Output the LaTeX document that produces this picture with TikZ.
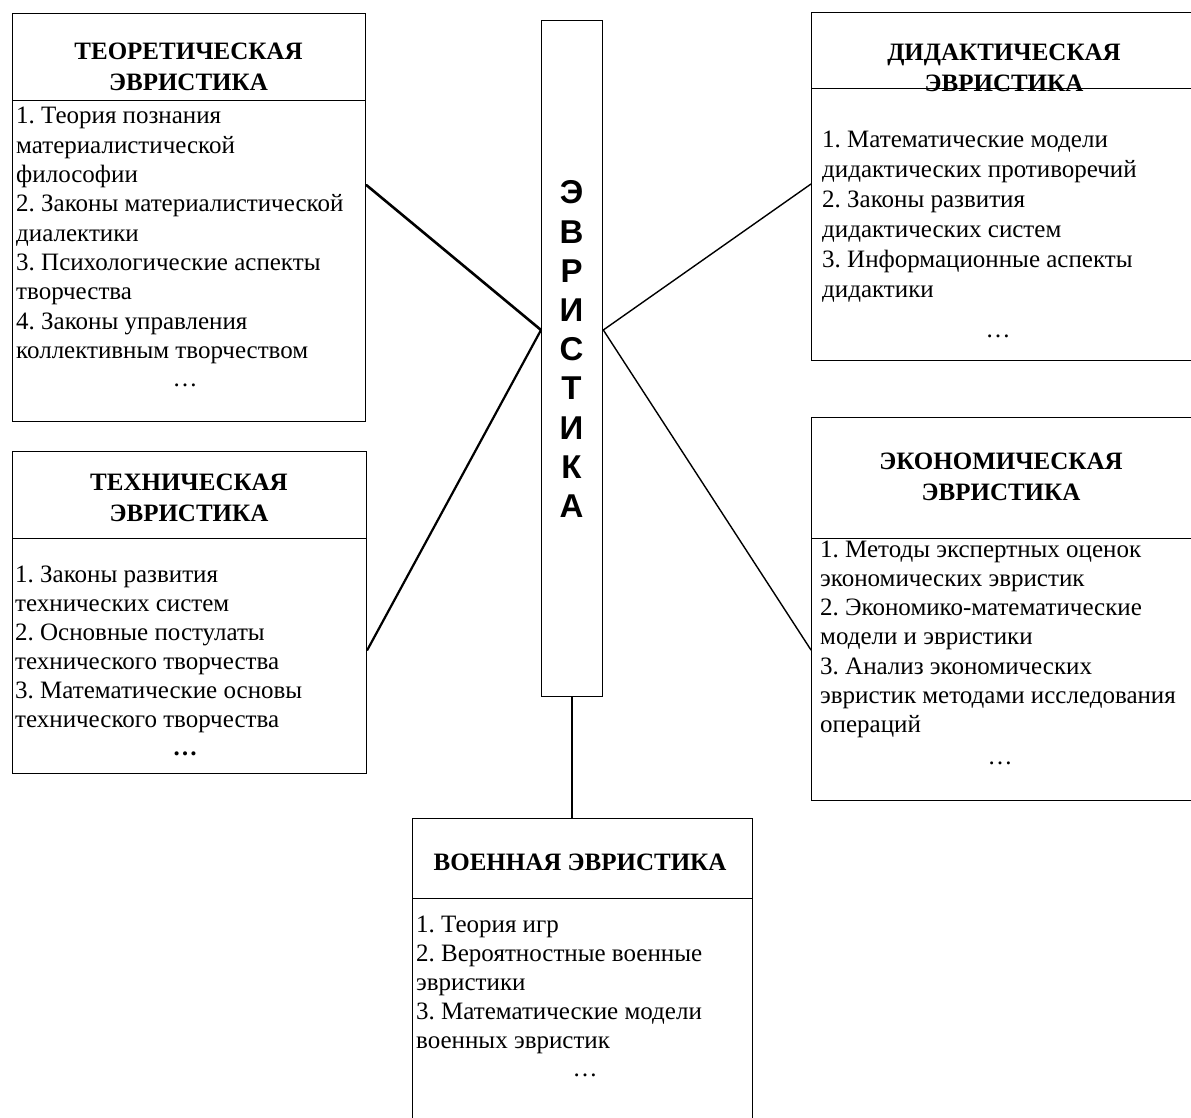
\documentclass[tikz,border=0pt]{standalone}
\usepackage{fontspec}
\setmainfont{Liberation Serif}
\newfontfamily\barfont{Liberation Sans}
\frenchspacing
\begin{document}
\begin{tikzpicture}[x=1pt,y=-1pt,
  box/.style={draw, line width=1.3pt, inner sep=0pt, anchor=north west},
  hdr/.style={font=\bfseries\fontsize{25}{31}\selectfont, inner sep=0pt, anchor=base},
  body/.style={font=\fontsize{25}{29.3}\selectfont, inner sep=0pt, anchor=base west},
  dotsnode/.style={font=\fontsize{25}{29}\selectfont, inner sep=0pt, anchor=base},
  link/.style={line width=1.4pt, line cap=round}]
\clip (0,0) rectangle (1191,1118);
\fill[white] (0,0) rectangle (1191,1118);
% ---------- boxes ----------
\node[box, minimum width=353pt, minimum height=87pt]  (teoH)  at (12,13)  {};
\node[box, minimum width=353pt, minimum height=321pt] (teoB)  at (12,100) {};
\node[box, minimum width=420pt, minimum height=76pt]  (didH)  at (811,12) {};
\node[box, minimum width=420pt, minimum height=272pt] (didB)  at (811,88) {};
\node[box, minimum width=354pt, minimum height=87pt]  (techH) at (12,451) {};
\node[box, minimum width=354pt, minimum height=235pt] (techB) at (12,538) {};
\node[box, minimum width=420pt, minimum height=121pt] (econH) at (811,417) {};
\node[box, minimum width=420pt, minimum height=262pt] (econB) at (811,538) {};
\node[box, minimum width=340pt, minimum height=80pt]  (milH)  at (412,818) {};
\node[box, minimum width=340pt, minimum height=262pt] (milB)  at (412,898) {};
% ---------- central bar ----------
\node[box, minimum width=61pt, minimum height=676pt] (bar) at (541,20) {};
\node[inner sep=0pt, anchor=base, font=\barfont\bfseries\fontsize{33}{39.2}\selectfont] (barT) at (571.5,204)
  {\parbox[t]{50pt}{\centering Э\\В\\Р\\И\\С\\Т\\И\\К\\А}};
% ---------- headers ----------
\node[hdr] (teoHT)  at (188.5,60) {\parbox[t]{340pt}{\centering ТЕОРЕТИЧЕСКАЯ\\ЭВРИСТИКА}};
\node[hdr] (didHT)  at (1004,61)  {\parbox[t]{340pt}{\centering ДИДАКТИЧЕСКАЯ\\ЭВРИСТИКА}};
\node[hdr] (techHT) at (189,490)  {\parbox[t]{340pt}{\centering ТЕХНИЧЕСКАЯ\\ЭВРИСТИКА}};
\node[hdr] (econHT) at (1001,469) {\parbox[t]{340pt}{\centering ЭКОНОМИЧЕСКАЯ\\ЭВРИСТИКА}};
\node[hdr] (milHT)  at (580,870)  {ВОЕННАЯ ЭВРИСТИКА};
% ---------- bodies ----------
\node[body] (teoL) at (16,124) {\parbox[t]{500pt}{\raggedright
  1. Теория познания\\материалистической\\философии\\2. Законы материалистической\\диалектики\\3. Психологические аспекты\\творчества\\4. Законы управления\\коллективным творчеством}};
\node[dotsnode] (teoD) at (185,386) {\ldots};
\node[body, font=\fontsize{25}{30}\selectfont] (didL) at (822,148) {\parbox[t]{500pt}{\raggedright
  1. Математические модели\\дидактических противоречий\\2. Законы развития\\дидактических систем\\3. Информационные аспекты\\дидактики}};
\node[dotsnode] (didD) at (998,337) {\ldots};
\node[body, font=\fontsize{25}{29}\selectfont] (techL) at (15,582) {\parbox[t]{500pt}{\raggedright
  1. Законы развития\\технических систем\\2. Основные постулаты\\технического творчества\\3. Математические основы\\технического творчества}};
\node[dotsnode, font=\bfseries\fontsize{25}{29}\selectfont] (techD) at (185,755) {\ldots};
\node[body, font=\fontsize{25}{29.3}\selectfont] (econL) at (820,557) {\parbox[t]{500pt}{\raggedright
  1. Методы экспертных оценок\\экономических эвристик\\2. Экономико-математические\\модели и эвристики\\3. Анализ экономических\\эвристик методами исследования\\операций}};
\node[dotsnode] (econD) at (1000,764) {\ldots};
\node[body, font=\fontsize{25}{29}\selectfont] (milL) at (416,932) {\parbox[t]{500pt}{\raggedright
  1. Теория игр\\2. Вероятностные военные\\эвристики\\3. Математические модели\\военных эвристик}};
\node[dotsnode] (milD) at (585,1076) {\ldots};
% ---------- connectors ----------
\coordinate (jL) at (bar.west |- 0,330);
\coordinate (jR) at (bar.east |- 0,330);
\draw[link, line width=2.6pt] (teoB.east |- 0,185) -- (jL);
\draw[link, line width=2.2pt] (techB.east |- 0,650) -- (jL);
\draw[link] (didB.west |- 0,184) -- (jR);
\draw[link] (econB.west |- 0,650) -- (jR);
\draw[link] (bar.south) -- (bar.south |- milH.north);
\end{tikzpicture}
\end{document}
